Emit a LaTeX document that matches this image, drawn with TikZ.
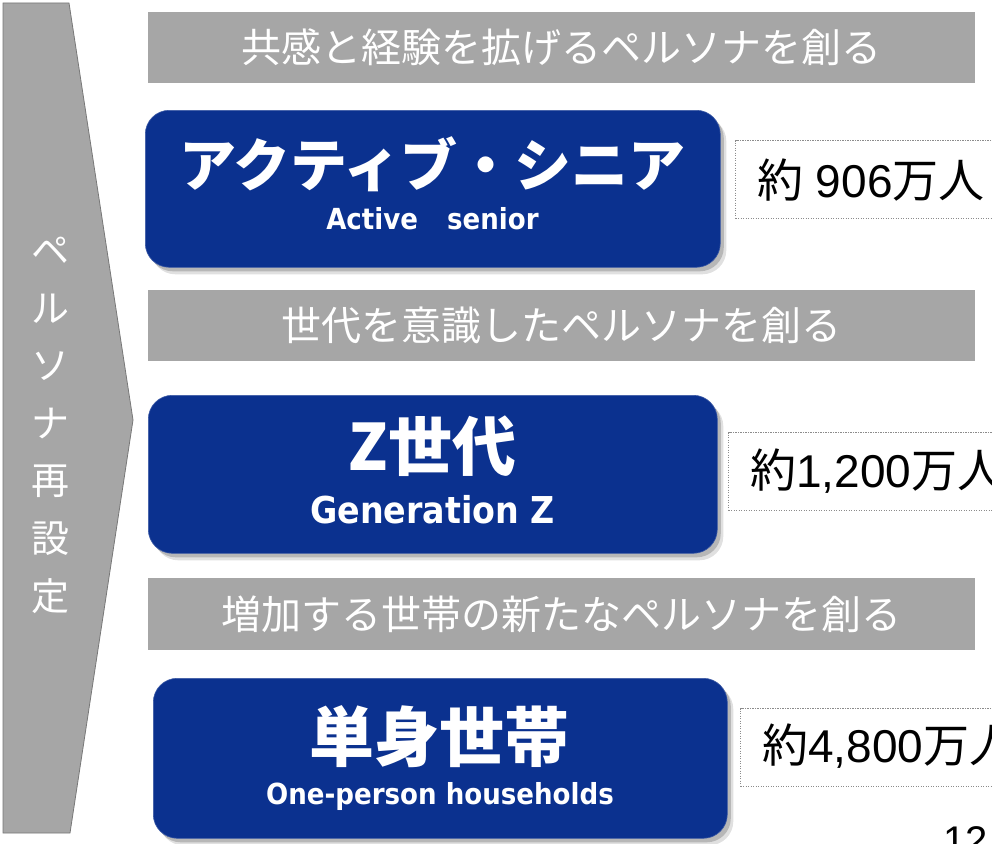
\documentclass[tikz,border=0pt]{standalone}
\usepackage{fontspec}
\setmainfont{Liberation Sans}
\newfontfamily\jp{Noto Sans CJK JP}
\newfontfamily\en{DejaVu Sans}[FakeStretch=0.9]
\definecolor{bannergray}{RGB}{166,166,166}
\definecolor{chevgray}{RGB}{166,166,166}
\definecolor{chevline}{RGB}{120,120,120}
\definecolor{navy}{RGB}{11,49,143}
\definecolor{dotgray}{RGB}{140,140,140}
\tikzset{
  banner/.style={fill=bannergray, draw=none, anchor=north west, inner sep=0pt,
    text=white, font=\jp\fontsize{40}{42}\selectfont},
  bluebox/.style={fill=navy, draw=navy!80!white, line width=0.6pt, rounded corners=24pt,
    anchor=north west, inner sep=0pt,
    preaction={fill=black, opacity=0.12, transform canvas={shift={(6pt,-7pt)}}},
    preaction={fill=black, opacity=0.18, transform canvas={shift={(3.5pt,-4pt)}}}},
  headtxt/.style={text=white, inner sep=0pt, font=\jp\bfseries\fontsize{#1}{#1}\selectfont},
  subtxt/.style={text=white, inner sep=0pt, font=\en\bfseries\fontsize{#1}{#1}\selectfont},
  numbox/.style={draw=dotgray, line width=1.1pt, dash pattern=on 1.1pt off 1.4pt,
    anchor=north west, minimum width=320pt, minimum height=78pt, inner sep=0pt},
  numtxt/.style={anchor=west, inner sep=0pt, text=black, font=\fontsize{46}{50}\selectfont},
  vtxt/.style={text=white, inner sep=0pt, font=\jp\fontsize{38}{38}\selectfont},
}
\begin{document}
\begin{tikzpicture}[x=1pt,y=-1pt]
\useasboundingbox (0,0) rectangle (992,843);
\clip (0,0) rectangle (992,843);
\fill[white] (0,0) rectangle (992,843);

% chevron
\draw[fill=chevgray, draw=chevline, line width=0.8pt]
  (3,3) -- (69,3) -- (133,420) -- (70,833) -- (3,833) -- cycle;
\foreach \c [count=\i] in {ペ,ル,ソ,ナ,再,設,定} {
  \node[vtxt] (v\i) at (50,{251+57.5*(\i-1)}) {\c};
}

% banners
\node[banner, minimum width=827pt, minimum height=71pt] (b1) at (148,12) {共感と経験を拡げるペルソナを創る};
\node[banner, minimum width=827pt, minimum height=71pt] (b2) at (148,290) {世代を意識したペルソナを創る};
\node[banner, minimum width=827pt, minimum height=72pt] (b3) at (148,578) {増加する世帯の新たなペルソナを創る};

% blue boxes
\node[bluebox, minimum width=575pt, minimum height=157pt] (p1) at (145,110) {};
\node[bluebox, minimum width=569pt, minimum height=158pt] (p2) at (148,395) {};
\node[bluebox, minimum width=574pt, minimum height=160pt] (p3) at (153,678) {};

\node[headtxt=57] (h1) at (432.5,164) {アクティブ・シニア};
\node[subtxt=29] (s1) at (432.5,219) {Active\hspace{20pt} senior};

\node[headtxt=64] (h2) at (432.5,446) {Z世代};
\node[subtxt=37] (s2) at (432.5,510) {Generation Z};

\node[headtxt=65] (h3) at (439,737) {単身世帯};
\node[subtxt=29] (s3) at (440,796) {One-person households};

% number boxes
\node[numbox] (n1) at (735,140) {};
\node[numbox] (n2) at (728,432) {};
\node[numbox] (n3) at (740,708) {};
\node[numtxt] (t1) at (757,180) {{\jp 約} 906{\jp 万人}};
\node[numtxt] (t2) at (750,471) {{\jp 約}1,200{\jp 万人}};
\node[numtxt] (t3) at (762,746) {{\jp 約}4,800{\jp 万人}};

% page number
\node[anchor=north west, inner sep=0pt, text=black, font=\fontsize{40}{40}\selectfont] (pg) at (943,826) {12};
\end{tikzpicture}
\end{document}
